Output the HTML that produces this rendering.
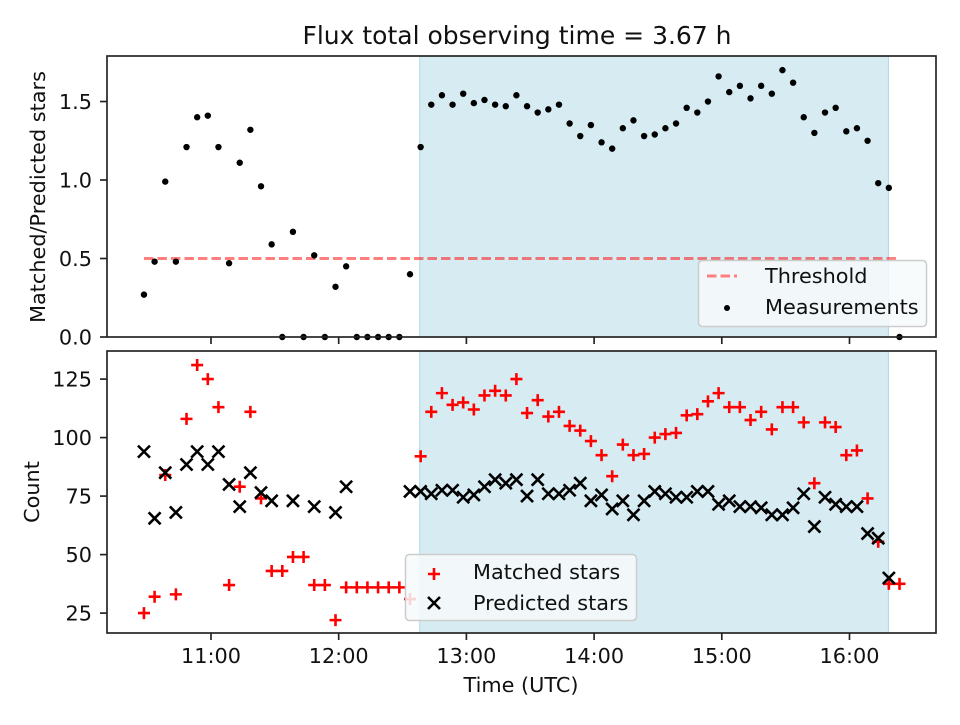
<!DOCTYPE html>
<html><head><meta charset="utf-8"><style>
body{margin:0;background:#fff}
svg{font-family:"DejaVu Sans","Liberation Sans",sans-serif}
</style></head><body>
<svg id="c" width="960" height="720" xmlns="http://www.w3.org/2000/svg"></svg>
<script>
const ratioValues=[0.27,0.48,0.99,0.48,1.21,1.40,1.41,1.21,0.47,1.11,1.32,0.96,0.59,0,0.67,0,0.52,0,0.32,0.45,0,0,0,0,0,0.40,1.21,1.48,1.54,1.48,1.55,1.49,1.51,1.48,1.47,1.54,1.47,1.43,1.45,1.48,1.36,1.28,1.35,1.24,1.20,1.33,1.38,1.28,1.29,1.33,1.36,1.46,1.43,1.50,1.66,1.56,1.60,1.52,1.60,1.55,1.70,1.62,1.40,1.30,1.43,1.46,1.31,1.33,1.25,0.98,0.95,0];
const matchedValues=[25,32,84,33,108,131,125,113,37,79,111,74,43,43,49,49,37,37,22,36,36,36,36,36,36,31,92,111,119,114,115,112,118,120,118,125,110.5,116,109,111,105,103,98.5,92.5,83.5,97,92.5,93,100,101.5,102,109.5,110,115.5,119,113,113,107.5,111,103.5,113,113,106.5,80.5,106.5,104.5,92.5,94.5,74,55.5,37.5,37.5];
const predictedValues=[94,65.5,85,68,88.5,94,88.5,94,80,70.5,85,76.5,73,null,73,null,70.5,null,68,79,null,null,null,null,null,77,77,76,77.5,77.5,74.5,75.5,79,82,80.5,82,75,82,76,76,77.5,80.5,73,75.5,69.5,73,67,73,77,76,74.5,74.5,77,77,71.5,73,70.5,70.5,70,67,67,70,76,62,74.5,71.5,70.5,70.5,59,57,40,null];
const firstMinute=28.5, stepMinutes=5;
const shadeRange=[158.1,378.3];
const threshold=0.5;
const xTickLabels=["11:00","12:00","13:00","14:00","15:00","16:00"];
const xTickMinutes=[60,120,180,240,300,360];
const topTicks=[0.0,0.5,1.0,1.5];
const botTicks=[25,50,75,100,125];

const NS="http://www.w3.org/2000/svg";
const svg=document.getElementById('c');
function el(t,a,p){const e=document.createElementNS(NS,t);for(const k in a)e.setAttribute(k,a[k]);(p||svg).appendChild(e);return e;}
const L=107,R=936;
const X=m=>211+(m-60)*2.1283;
const topP={t:56,b:337,min:0,max:1.79};
const botP={t:351,b:633,min:16.5,max:137};
const Yt=v=>topP.b-(v-topP.min)/(topP.max-topP.min)*(topP.b-topP.t);
const Yb=v=>botP.b-(v-botP.min)/(botP.max-botP.min)*(botP.b-botP.t);
const tm=i=>firstMinute+i*stepMinutes;

function panel(p,Y,ticks,fmt,name){
  const g=el('g',{});
  
  
  const sh=el('rect',{x:X(shadeRange[0]),y:p.t,width:X(shadeRange[1])-X(shadeRange[0]),height:p.b-p.t,fill:'#add8e6','fill-opacity':0.5,stroke:'#add8e6'},g);
  
  
  ticks.forEach(v=>{
    el('line',{x1:L-7,x2:L,y1:Y(v),y2:Y(v),stroke:'#222','stroke-width':1.67},g);
    const t=el('text',{x:L-15,y:Y(v)+7.5,'text-anchor':'end','font-size':20.8,fill:'#111'},g);
    t.textContent=fmt(v);
    
    
  });
  xTickMinutes.forEach(m=>el('line',{x1:X(m),x2:X(m),y1:p.b,y2:p.b+7,stroke:'#222','stroke-width':1.67},g));
  return g;
}
const gt=panel(topP,Yt,topTicks,v=>v.toFixed(1),'top-panel');
const gb=panel(botP,Yb,botTicks,v=>String(v),'bottom-panel');

const th=el('line',{x1:X(firstMinute),x2:X(tm(71)),y1:Yt(threshold),y2:Yt(threshold),stroke:'#ff0000','stroke-opacity':0.5,'stroke-width':3,'stroke-dasharray':'9.5,4'},gt);


ratioValues.forEach((v,i)=>{
  const c=el('circle',{cx:X(tm(i)),cy:Yt(v),r:3.2,fill:'#000'},gt);
  
  
});
matchedValues.forEach((v,i)=>{
  if(v==null)return;
  const x=X(tm(i)),y=Yb(v);
  const p=el('path',{d:`M${x-6},${y}H${x+6}M${x},${y-6}V${y+6}`,stroke:'#ff0000','stroke-width':2.6},gb);
  
  
});
predictedValues.forEach((v,i)=>{
  if(v==null)return;
  const x=X(tm(i)),y=Yb(v);
  const p=el('path',{d:`M${x-6},${y-6}L${x+6},${y+6}M${x-6},${y+6}L${x+6},${y-6}`,stroke:'#000','stroke-width':2.6},gb);
  
  
});
[topP,botP].forEach(p=>el('rect',{x:L,y:p.t,width:R-L,height:p.b-p.t,fill:'none',stroke:'#222','stroke-width':1.67}));
xTickLabels.forEach((s,i)=>{
  const t=el('text',{x:X(xTickMinutes[i]),y:botP.b+30,'text-anchor':'middle','font-size':20.8,fill:'#111'});
  t.textContent=s;
  
  
});
</script>
<svg width="960" height="720" style="position:absolute;left:0;top:0" xmlns="http://www.w3.org/2000/svg">
<text x="517" y="44" text-anchor="middle" font-size="25" fill="#111" font-family="DejaVu Sans, Liberation Sans, sans-serif">Flux total observing time = 3.67 h</text>
<text x="521" y="692" text-anchor="middle" font-size="20.8" fill="#111" font-family="DejaVu Sans, Liberation Sans, sans-serif">Time (UTC)</text>
<text transform="translate(45,197) rotate(-90)" text-anchor="middle" font-size="20.8" fill="#111" font-family="DejaVu Sans, Liberation Sans, sans-serif">Matched/Predicted stars</text>
<text transform="translate(39,492) rotate(-90)" text-anchor="middle" font-size="20.8" fill="#111" font-family="DejaVu Sans, Liberation Sans, sans-serif">Count</text>
<g font-family="DejaVu Sans, Liberation Sans, sans-serif" font-size="20.8" fill="#111">
<rect x="698.5" y="260.5" width="228" height="66" rx="4" fill="#f7fafc" fill-opacity="0.85" stroke="#ccc" stroke-width="1.5"/>
<line x1="707" x2="737" y1="276" y2="276" stroke="#ff7f7f" stroke-width="3" stroke-dasharray="9.5,4"/>
<text x="765" y="283">Threshold</text>
<circle cx="727" cy="308" r="3" fill="#000"/>
<text x="765" y="314">Measurements</text>
</g>
<g font-family="DejaVu Sans, Liberation Sans, sans-serif" font-size="20.8" fill="#111">
<rect x="405.5" y="554.5" width="231" height="66" rx="4" fill="#f7fafc" fill-opacity="0.85" stroke="#ccc" stroke-width="1.5"/>
<path d="M428,574H440M434,568V580" stroke="#ff0000" stroke-width="2.6"/>
<text x="473" y="579">Matched stars</text>
<path d="M428,597L440,609M428,609L440,597" stroke="#000" stroke-width="2.6"/>
<text x="473" y="610">Predicted stars</text>
</g>
</svg>
</body></html>
